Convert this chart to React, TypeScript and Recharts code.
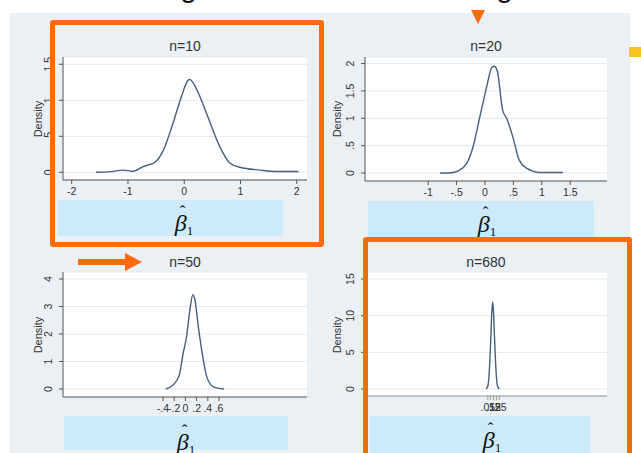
import { CartesianGrid, Line, LineChart, XAxis, YAxis } from "recharts";

// kernel density of beta-hat
const n10X = [-1.57, -1.3, -1.09, -0.91, -0.73, -0.52, -0.38, -0.2, -0.05, 0.07, 0.1, 0.13, 0.28, 0.42, 0.63, 0.81, 0.99, 1.35, 1.64, 2.03];
const n10Y = [0, 0.01, 0.03, 0.015, 0.08, 0.14, 0.29, 0.68, 1.05, 1.28, 1.29, 1.27, 1.05, 0.77, 0.36, 0.13, 0.07, 0.03, 0.01, 0.01];

const n20X = [-0.79, -0.6, -0.47, -0.32, -0.21, -0.09, 0.03, 0.12, 0.16, 0.22, 0.26, 0.31, 0.38, 0.49, 0.6, 0.73, 0.97, 1.37];
const n20Y = [0, 0.005, 0.04, 0.18, 0.48, 1.03, 1.58, 1.93, 1.95, 1.85, 1.55, 1.15, 1.0, 0.66, 0.24, 0.09, 0.01, 0.01];

const n50X = [-0.35, -0.22, -0.11, -0.04, 0.02, 0.08, 0.13, 0.17, 0.23, 0.31, 0.38, 0.5, 0.69];
const n50Y = [0, 0.15, 0.5, 1.3, 1.9, 2.87, 3.42, 3.24, 2.27, 1.18, 0.45, 0.08, 0];

const n680X = [0.02, 0.05, 0.08, 0.1, 0.12, 0.135, 0.15, 0.17, 0.19, 0.22, 0.25];
const n680Y = [0, 0.4, 3, 6.5, 10.5, 11.9, 10.5, 6.5, 3, 0.4, 0];

const n10XTicks = [-2, -1, 0, 1, 2];
const n20XTicks = [-1, -0.5, 0, 0.5, 1, 1.5];
const n50XTicks = [-0.4, -0.2, 0, 0.2, 0.4, 0.6];
const n680XTicks = [0.05, 0.1, 0.15, 0.2, 0.25];

const n10YTicks = [0, 0.5, 1, 1.5];
const n20YTicks = [0, 0.5, 1, 1.5, 2];
const n50YTicks = [0, 1, 2, 3, 4];
const n680YTicks = [0, 5, 10, 15];

const rows = (xs: number[], ys: number[]) => xs.map((x, i) => ({ x, y: ys[i] }));

const FONT = '"Liberation Sans", Arial, sans-serif';
const ORANGE = "#ff6a0d";
const BLUE = "#cdeafa";

// stata style: drop the leading zero
const stataFmt = (v: number) => String(v).replace(/^(-?)0\./, "$1.");

function YTick(props: any) {
  const { x, y, payload } = props;
  return (
    <text
      x={x}
      y={y}
      transform={`rotate(-90 ${x} ${y})`}
      textAnchor="middle"
      fontSize={10.5}
      fontFamily={FONT}
      fill="#333"
    >
      {stataFmt(payload.value)}
    </text>
  );
}

function Panel({
  left,
  top,
  height,
  yWidth,
  data,
  xDomain,
  xTicks,
  yDomain,
  yTicks,
  axisColor = "#555",
}: {
  left: number;
  top: number;
  height: number;
  yWidth: number;
  data: { x: number; y: number }[];
  xDomain: [number, number];
  xTicks: number[];
  yDomain: [number, number];
  yTicks: number[];
  axisColor?: string;
}) {
  return (
    <div style={{ position: "absolute", left, top }}>
      <LineChart width={300} height={height} data={data} margin={{ top: 7, right: 13, bottom: 0, left: 0 }}>
        <CartesianGrid vertical={false} fill="#ffffff" stroke="#e2eaef" />
        <XAxis
          dataKey="x"
          type="number"
          domain={xDomain}
          ticks={xTicks}
          allowDataOverflow
          interval={0}
          height={20}
          tickSize={4}
          tickMargin={4}
          tickFormatter={stataFmt}
          tick={{ fontSize: 10.5, fill: "#333", fontFamily: FONT }}
          stroke={axisColor}
        />
        <YAxis
          type="number"
          domain={yDomain}
          ticks={yTicks}
          allowDataOverflow
          interval={0}
          width={yWidth}
          tickSize={4}
          tickMargin={7}
          tick={(p: any) => <YTick {...p} />}
          stroke="#555"
        />
        <Line
          dataKey="y"
          type="monotone"
          stroke="#445f80"
          strokeWidth={1.4}
          dot={false}
          isAnimationActive={false}
        />
      </LineChart>
    </div>
  );
}

function Title({ cx, cy, text }: { cx: number; cy: number; text: string }) {
  return (
    <div
      style={{
        position: "absolute",
        left: cx,
        top: cy,
        transform: "translate(-50%, -50%)",
        fontFamily: FONT,
        fontSize: 14,
        color: "#333",
        whiteSpace: "nowrap",
      }}
    >
      {text}
    </div>
  );
}

function Density({ cx, cy }: { cx: number; cy: number }) {
  return (
    <div
      style={{
        position: "absolute",
        left: cx,
        top: cy,
        transform: "translate(-50%, -50%) rotate(-90deg)",
        fontFamily: FONT,
        fontSize: 11,
        color: "#333",
      }}
    >
      Density
    </div>
  );
}

function BetaBox({ x, y, w, h }: { x: number; y: number; w: number; h: number }) {
  return <div style={{ position: "absolute", left: x, top: y, width: w, height: h, background: BLUE }} />;
}

function BetaHat({ cx, base }: { cx: number; base: number }) {
  return (
    <div
      style={{
        position: "absolute",
        left: cx,
        top: base - 19,
        transform: "translateX(-50%)",
        fontFamily: '"Liberation Serif", "Times New Roman", serif',
        fontSize: 24,
        lineHeight: "24px",
        color: "#111",
        whiteSpace: "nowrap",
      }}
    >
      <span style={{ position: "relative", fontStyle: "italic" }}>
        β
        <span style={{ position: "absolute", left: 5, top: -10, fontStyle: "normal", fontSize: 17 }}>ˆ</span>
      </span>
      <span style={{ fontSize: 13, position: "relative", top: 4 }}>1</span>
    </div>
  );
}

function OrangeBox({ x, y, w, h }: { x: number; y: number; w: number; h: number }) {
  return (
    <div
      style={{
        position: "absolute",
        left: x,
        top: y,
        width: w,
        height: h,
        boxSizing: "border-box",
        border: `5px solid ${ORANGE}`,
        borderRadius: 3,
      }}
    />
  );
}

const headStyle = {
  position: "absolute" as const,
  top: -28,
  fontFamily: FONT,
  fontSize: 30,
  lineHeight: "30px",
  color: "#111",
  whiteSpace: "nowrap" as const,
};

export default function App() {
  return (
    <div
      style={{
        position: "absolute",
        left: 0,
        top: 0,
        width: 641,
        height: 453,
        overflow: "hidden",
        background: "#ffffff",
      }}
    >
      {/* heading of the slide, cut off at the top */}
      <div style={{ position: "absolute", left: 0, top: 0, width: 641, height: 12, overflow: "hidden" }}>
        <div style={{ ...headStyle, right: 641 - 197 }}>with the size increasing</div>
        <div style={{ ...headStyle, right: 641 - 513 }}>the distribution is narrowing</div>
        <div style={{ ...headStyle, left: 528 }}>down</div>
      </div>

      <div style={{ position: "absolute", left: 10, top: 13, width: 620, height: 440, background: "#eaf0f3" }} />

      <Panel
        left={20}
        top={50}
        height={150}
        yWidth={43}
        data={rows(n10X, n10Y)}
        xDomain={[-2.155, 2.183]}
        xTicks={n10XTicks}
        yDomain={[-0.107, 1.601]}
        yTicks={n10YTicks}
      />
      <Panel
        left={320}
        top={50}
        height={151}
        yWidth={45}
        data={rows(n20X, n20Y)}
        xDomain={[-2.113, 2.148]}
        xTicks={n20XTicks}
        yDomain={[-0.146, 2.12]}
        yTicks={n20YTicks}
      />
      <Panel
        left={20}
        top={265}
        height={152}
        yWidth={43}
        data={rows(n50X, n50Y)}
        xDomain={[-2.186, 2.171]}
        xTicks={n50XTicks}
        yDomain={[-0.291, 4.255]}
        yTicks={n50YTicks}
      />
      <Panel
        left={320}
        top={265}
        height={151}
        yWidth={45}
        data={rows(n680X, n680Y)}
        xDomain={[-2.113, 2.148]}
        xTicks={n680XTicks}
        yDomain={[-0.955, 15.96]}
        yTicks={n680YTicks}
        axisColor="#999"
      />

      <Title cx={185} cy={46} text="n=10" />
      <Title cx={486} cy={46} text="n=20" />
      <Title cx={185} cy={262} text="n=50" />
      <Title cx={486} cy={262} text="n=680" />

      <Density cx={38} cy={119} />
      <Density cx={337} cy={119} />
      <Density cx={38} cy={335} />
      <Density cx={337} cy={335} />

      <BetaBox x={58} y={200} w={225} h={36} />
      <BetaBox x={368} y={201} w={226} h={40} />
      <BetaBox x={64} y={416} w={224} h={34} />
      <BetaBox x={370} y={416} w={220} h={40} />

      <BetaHat cx={184} base={230} />
      <BetaHat cx={487} base={231} />
      <BetaHat cx={186} base={449} />
      <BetaHat cx={492} base={447} />

      <OrangeBox x={50} y={20} w={274} h={227} />
      <OrangeBox x={363} y={237} w={269} h={240} />

      {/* arrow pointing at n=50 */}
      <div style={{ position: "absolute", left: 78, top: 259, width: 48, height: 6, background: ORANGE }} />
      <div
        style={{
          position: "absolute",
          left: 125,
          top: 253,
          width: 0,
          height: 0,
          borderTop: "9px solid transparent",
          borderBottom: "9px solid transparent",
          borderLeft: `17px solid ${ORANGE}`,
        }}
      />
      {/* small triangle at the top */}
      <div
        style={{
          position: "absolute",
          left: 471,
          top: 10,
          width: 0,
          height: 0,
          borderLeft: "7px solid transparent",
          borderRight: "7px solid transparent",
          borderTop: `14px solid ${ORANGE}`,
        }}
      />
      <div style={{ position: "absolute", left: 629, top: 47, width: 12, height: 10, background: "#f5c31f" }} />
    </div>
  );
}
